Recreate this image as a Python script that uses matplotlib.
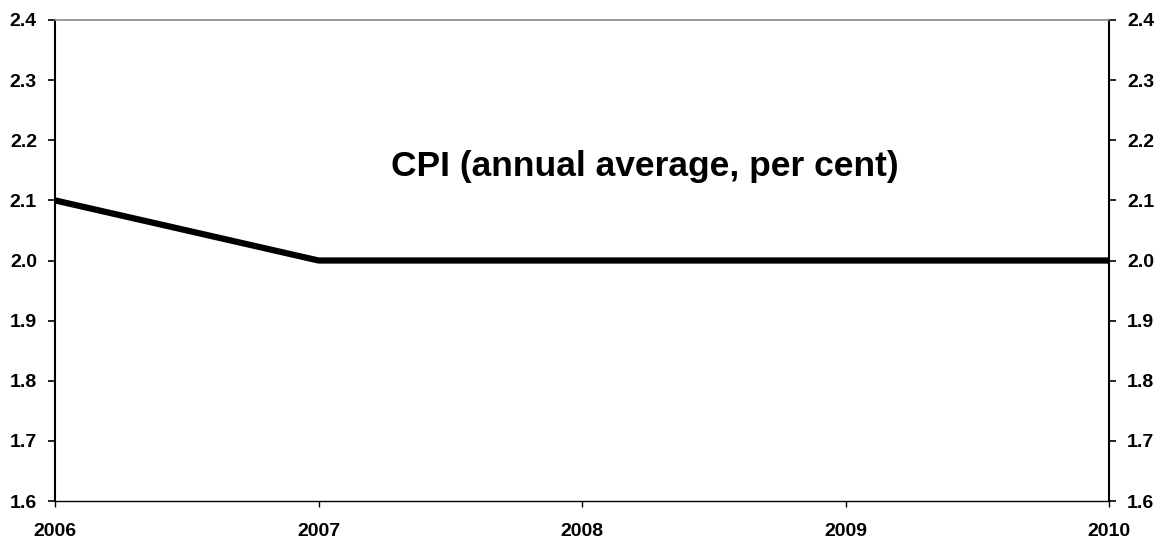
import matplotlib
matplotlib.use("Agg")
import matplotlib.pyplot as plt

plt.rcParams['font.family'] = ['Liberation Sans', 'DejaVu Sans']

years = [2006, 2007, 2008, 2009, 2010]
cpi = [2.1, 2.0, 2.0, 2.0, 2.0]
y_ticks = [1.6, 1.7, 1.8, 1.9, 2.0, 2.1, 2.2, 2.3, 2.4]
title = 'CPI (annual average, per cent)'

fig = plt.figure(figsize=(11.63, 5.41), dpi=100)
ax = fig.add_axes([55 / 1163, 1 - 501 / 541, (1109 - 55) / 1163, (501 - 20) / 541])

ax.plot(years, cpi, color='black', linewidth=4.5, solid_joinstyle='miter')

ax.set_xlim(2006, 2010)
ax.set_ylim(1.6, 2.4)
ax.set_xticks(years)
ax.set_xticklabels([str(y) for y in years], fontsize=14, fontweight='bold')
ax.set_yticks(y_ticks)
ax.set_yticklabels([f'{v:.1f}' for v in y_ticks], fontsize=14, fontweight='bold')
ax.tick_params(axis='y', direction='out', length=5, width=1.2, left=True, right=True,
               labelleft=True, labelright=True, pad=8)
ax.tick_params(axis='x', direction='out', length=4.5, width=1, pad=11)

for s in ['left', 'right']:
    ax.spines[s].set_linewidth(1.5)
    ax.spines[s].set_color('black')
ax.spines['bottom'].set_linewidth(1)
ax.spines['top'].set_color('#888888')
ax.spines['top'].set_linewidth(1.2)

ax.text(0.56, 0.695, title, transform=ax.transAxes, ha='center', va='center',
        fontsize=25.5, fontweight='bold')

fig.savefig('out.png', dpi=100)
